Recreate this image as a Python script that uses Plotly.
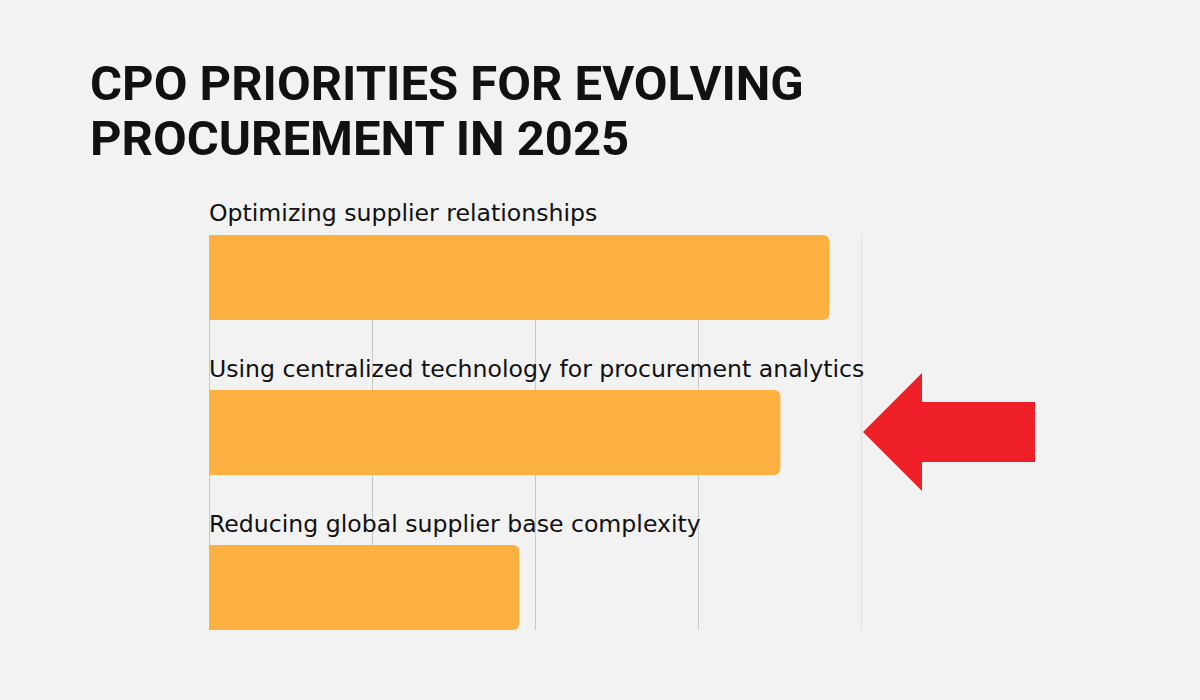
import plotly.graph_objects as go

categories = ["Optimizing supplier relationships",
              "Using centralized technology for procurement analytics",
              "Reducing global supplier base complexity"]
values = [76, 70, 38]
x_ticks = [0, 20, 40, 60, 80]
title_lines = ["CPO PRIORITIES FOR EVOLVING", "PROCUREMENT IN 2025"]

BG = "#f2f2f2"
BAR = "#fbb040"
GRID = "#c9c9c9"

W, H = 1200, 700
L, R, T, B = 209, 338, 235, 70
PW, PH = W - L - R, H - T - B

fig = go.Figure()
fig.add_trace(go.Bar(
    x=values, y=categories, orientation="h",
    marker=dict(color=BAR, line=dict(width=0)),
    width=0.548, hoverinfo="skip",
))

for c in categories:
    fig.add_annotation(x=0, y=c, xref="x", yref="y", text=c, showarrow=False,
                       xanchor="left", yanchor="bottom", yshift=48, xshift=-2,
                       font=dict(family="DejaVu Sans", size=23.6, color="#111111"))

def px2paper(px, py):
    return (px - L) / PW, (H - B - py) / PH

for i, line in enumerate(title_lines):
    px, py = px2paper(88, 53 + 55 * i)
    fig.add_annotation(x=px, y=py, xref="paper", yref="paper", text="<b>" + line + "</b>",
                       showarrow=False, xanchor="left", yanchor="top",
                       font=dict(family="Roboto", size=49, color="#111111"))

# right-most gridline at the end of the range
fig.add_shape(type="line", x0=x_ticks[-1], x1=x_ticks[-1], y0=0, y1=1, xref="x", yref="paper",
              line=dict(color=GRID, width=1), layer="below")

arrow_px = [(863, 432), (922, 373), (922, 402), (1035, 402), (1035, 462), (922, 462), (922, 491)]
pts = [px2paper(a, b) for a, b in arrow_px]
path = "M " + " L ".join(f"{x:.5f},{y:.5f}" for x, y in pts) + " Z"
fig.add_shape(type="path", path=path, xref="paper", yref="paper",
              fillcolor="#ee1f28", line=dict(width=0), layer="above")

fig.update_layout(
    width=W, height=H, paper_bgcolor=BG, plot_bgcolor=BG,
    margin=dict(l=L, r=R, t=T, b=B),
    barcornerradius=6, showlegend=False,
    xaxis=dict(range=[0, 80], tickvals=x_ticks, showticklabels=False, showgrid=True,
               gridcolor=GRID, gridwidth=1, zeroline=True, zerolinecolor=GRID,
               zerolinewidth=1, showline=False, fixedrange=True),
    yaxis=dict(type="category", categoryorder="array", categoryarray=categories,
               range=[2.274, -0.274], showticklabels=False, showgrid=False,
               zeroline=False, showline=False, fixedrange=True),
)
fig.write_html("out.html")
